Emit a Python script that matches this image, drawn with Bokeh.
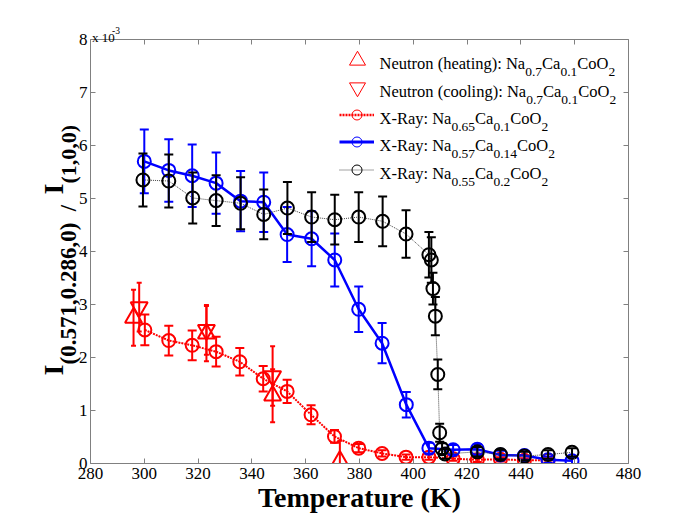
import numpy as np
from bokeh.plotting import figure
from bokeh.models import (Range1d, LinearAxis, FixedTicker, CustomJSTickFormatter,
                          Label, Legend, LegendItem, ColumnDataSource)
from bokeh.embed import file_html
from bokeh.resources import INLINE

# ---------------- data (intensity ratio in units of 1e-3) ----------------
heat_T = [296.0, 323.1, 347.7, 372.7]
heat_I = [2.75, 2.45, 1.28, 0.05]
heat_err = [0.53, 0.52, 0.50, 0.38]

cool_T = [298.1, 323.1, 347.7]
cool_I = [2.95, 2.52, 1.65]
cool_err = [0.46, 0.47, 0.56]

x65_T = [300.2, 309.1, 317.8, 326.7, 335.5, 344.2, 353.1, 362.0, 370.7, 379.7,
         388.4, 397.3, 405.8, 414.8, 423.8, 432.4, 441.3, 450.1]
x65_I = [2.52, 2.32, 2.23, 2.11, 1.92, 1.60, 1.36, 0.92, 0.51, 0.29,
         0.19, 0.12, 0.12, 0.09, 0.07, 0.08, 0.06, 0.06]
x65_err = [0.29, 0.28, 0.28, 0.28, 0.26, 0.24, 0.22, 0.18, 0.12, 0.08,
           0.06, 0.05, 0.05, 0.04, 0.04, 0.04, 0.04, 0.04]

x57_T = [300.0, 309.1, 317.8, 326.7, 335.8, 344.4, 353.1, 362.2, 370.8, 379.7,
         388.4, 397.4, 405.8, 414.8, 423.8, 432.4, 441.3, 450.1, 459.0]
x57_I = [5.70, 5.53, 5.43, 5.29, 4.95, 4.93, 4.32, 4.24, 3.84, 2.91,
         2.27, 1.11, 0.29, 0.26, 0.27, 0.16, 0.15, 0.07, 0.05]
x57_err = [0.60, 0.59, 0.59, 0.58, 0.57, 0.56, 0.52, 0.52, 0.50, 0.43,
           0.38, 0.24, 0.10, 0.09, 0.10, 0.08, 0.08, 0.06, 0.06]

x55_T = [299.5, 309.1, 318.0, 326.7, 335.8, 344.4, 353.2, 362.2, 370.8, 379.7,
         388.6, 397.3, 405.8, 406.7, 407.3, 408.2, 409.1, 409.8, 410.7, 411.8,
         423.8, 432.4, 441.3, 450.1, 459.0]
x55_I = [5.35, 5.33, 5.01, 4.96, 4.91, 4.70, 4.82, 4.65, 4.60, 4.65,
         4.57, 4.33, 3.94, 3.84, 3.30, 2.78, 1.68, 0.58, 0.28, 0.18,
         0.22, 0.17, 0.14, 0.17, 0.21]
x55_err = [0.50, 0.50, 0.48, 0.48, 0.49, 0.47, 0.49, 0.47, 0.47, 0.47,
           0.47, 0.45, 0.43, 0.43, 0.30, 0.36, 0.28, 0.17, 0.10, 0.09,
           0.09, 0.09, 0.08, 0.08, 0.08]

x_ticks = [280, 300, 320, 340, 360, 380, 400, 420, 440, 460, 480]
y_ticks = [0, 1, 2, 3, 4, 5, 6, 7, 8]

legend_rows = [
    [("Neutron (heating): Na", 0), ("0.7", 1), ("Ca", 0), ("0.1", 1), ("CoO", 0), ("2", 1)],
    [("Neutron (cooling): Na", 0), ("0.7", 1), ("Ca", 0), ("0.1", 1), ("CoO", 0), ("2", 1)],
    [("X-Ray: Na", 0), ("0.65", 1), ("Ca", 0), ("0.1", 1), ("CoO", 0), ("2", 1)],
    [("X-Ray: Na", 0), ("0.57", 1), ("Ca", 0), ("0.14", 1), ("CoO", 0), ("2", 1)],
    [("X-Ray: Na", 0), ("0.55", 1), ("Ca", 0), ("0.2", 1), ("CoO", 0), ("2", 1)],
]

FONT = "Liberation Serif"
NB = "\u00a0"

# ---------------- approximate Times metrics for text layout ----------------
REG = {' ': 250, '(': 333, ')': 333, ':': 278, '-': 333, '.': 250, ',': 250,
       'N': 722, 'e': 444, 'u': 500, 't': 278, 'r': 333, 'o': 500, 'n': 500, 'h': 500,
       'a': 444, 'i': 278, 'g': 500, 'c': 444, 'l': 278, 'C': 667, 'O': 722, 'X': 722,
       'R': 667, 'y': 500, 'x': 500}


def tw(s, size):
    return sum(REG.get(c, 500) for c in s) * size / 1000.0


# frame geometry (page pixels) -> data coordinates for text placement
FL, FT, FW, FH = 90.0, 39.0, 538.0, 424.0


def X(px):
    return 280 + (px - FL) * 200.0 / FW


def Y(py):
    return 8.0 * (FT + FH - py) / FH


p = figure(width=694, height=520, output_backend="svg", toolbar_location=None, tools="",
           x_range=Range1d(280, 480), y_range=Range1d(0, 8),
           x_axis_location=None, y_axis_location=None,
           min_border_left=90, min_border_right=66, min_border_top=39, min_border_bottom=57)
p.background_fill_color = "white"
p.border_fill_color = "white"
p.outline_line_color = None
p.xgrid.visible = False
p.ygrid.visible = False

AX = "#808080"
common = dict(axis_line_color=AX, major_tick_line_color=AX, major_tick_in=5, major_tick_out=0,
              minor_tick_line_color=None)
label_style = dict(major_label_text_font=FONT, major_label_text_font_size="17px",
                   major_label_text_color="black")

xaxis = LinearAxis(ticker=FixedTicker(ticks=x_ticks), major_label_standoff=4,
                   axis_label="Temperature (K)", axis_label_text_font=FONT,
                   axis_label_text_font_size="28px", axis_label_text_font_style="bold",
                   axis_label_text_color="black", axis_label_standoff=0,
                   **common, **label_style)
yaxis = LinearAxis(ticker=FixedTicker(ticks=y_ticks), major_label_standoff=3,
                   **common, **label_style)
p.add_layout(xaxis, "below")
p.add_layout(yaxis, "left")

blank = CustomJSTickFormatter(code="return ''")
top = LinearAxis(ticker=FixedTicker(ticks=x_ticks), formatter=blank, major_label_standoff=0,
                 **common)
right = LinearAxis(ticker=FixedTicker(ticks=y_ticks), formatter=blank, major_label_standoff=0,
                   **common)
p.add_layout(top, "above")
p.add_layout(right, "right")


def errbars(T, I, E, color, cap, lw):
    T = np.asarray(T, float)
    I = np.asarray(I, float)
    E = np.asarray(E, float)
    src = ColumnDataSource(dict(x=T, lo=I - E, hi=I + E))
    p.segment(x0="x", y0="lo", x1="x", y1="hi", source=src, line_color=color, line_width=lw)
    p.scatter(x="x", y="hi", source=src, marker="dash", size=cap, line_color=color, line_width=lw)
    p.scatter(x="x", y="lo", source=src, marker="dash", size=cap, line_color=color, line_width=lw)


# neutron data
errbars(heat_T, heat_I, heat_err, "red", 5, 2)
p.scatter(heat_T, heat_I, marker="triangle", size=17, line_color="red", fill_color=None, line_width=2)
errbars(cool_T, cool_I, cool_err, "red", 5, 2)
p.scatter(cool_T, cool_I, marker="inverted_triangle", size=17, line_color="red", fill_color=None, line_width=2)

# X-ray Na0.65
p.line(x65_T, x65_I, line_color="red", line_width=2, line_dash="2 1")
errbars(x65_T, x65_I, x65_err, "red", 9, 2)
p.scatter(x65_T, x65_I, marker="circle", size=13, line_color="red", fill_color=None, line_width=2)

# X-ray Na0.57
p.line(x57_T, x57_I, line_color="blue", line_width=2.5)
errbars(x57_T, x57_I, x57_err, "blue", 9, 2)
p.scatter(x57_T, x57_I, marker="circle", size=13, line_color="blue", fill_color=None, line_width=2)

# X-ray Na0.55
p.line(x55_T, x55_I, line_color="#444444", line_width=1, line_dash="1 1")
errbars(x55_T, x55_I, x55_err, "black", 9, 2)
p.scatter(x55_T, x55_I, marker="circle", size=13, line_color="black", fill_color=None, line_width=2)

# ---------------- legend (samples via Legend, text via Labels) ----------------
NAN = [np.nan]
lg_heat = [p.scatter(NAN, NAN, marker="triangle", line_color="red", fill_color=None, line_width=1)]
lg_cool = [p.scatter(NAN, NAN, marker="inverted_triangle", line_color="red", fill_color=None, line_width=1)]
lg_65 = [p.line(NAN, NAN, line_color="red", line_width=2.5, line_dash="2 1"),
         p.scatter(NAN, NAN, marker="circle", line_color="red", fill_color=None, line_width=1)]
lg_57 = [p.line(NAN, NAN, line_color="blue", line_width=3),
         p.scatter(NAN, NAN, marker="circle", line_color="blue", fill_color=None, line_width=1)]
lg_55 = [p.line(NAN, NAN, line_color="#444444", line_width=1, line_dash="1 1"),
         p.scatter(NAN, NAN, marker="circle", line_color="black", fill_color=None, line_width=1)]

BASE0, STEP = 63.3, 27.35
GLYPH_CX = 356.7
for i, (rends, gw, gh) in enumerate([(lg_heat, 40, 40), (lg_cool, 40, 40),
                                      (lg_65, 35, 25), (lg_57, 35, 25), (lg_55, 35, 25)]):
    cy = BASE0 + STEP * i - 3.7
    leg = Legend(items=[LegendItem(label=" ", renderers=rends)],
                 location=(GLYPH_CX - gw / 2.0 - FL, FT + FH - (cy + gh / 2.0)),
                 glyph_width=gw, glyph_height=gh, label_height=gh, label_width=1,
                 label_standoff=0, padding=0, margin=0, spacing=0,
                 border_line_color=None, background_fill_alpha=0,
                 label_text_font_size="1px")
    p.add_layout(leg, "center")

MAIN, SUB, SUBDROP = 16.5, 13.5, 8.5
for i, segs in enumerate(legend_rows):
    base = BASE0 + STEP * i
    cx = 379.0
    for txt, sub in segs:
        size = SUB if sub else MAIN
        yb = base + (SUBDROP if sub else 0)
        p.add_layout(Label(x=X(cx), y=Y(yb), text=txt, text_font=FONT,
                           text_font_size=f"{size}px", text_color="black",
                           text_align="left", text_baseline="alphabetic"))
        cx += tw(txt, size)

# ---------------- y-axis title (rotated, with subscripts) ----------------
def ylabel(txt, size, bx, by, side):
    p.add_layout(Label(x=X(bx), y=Y(by), text=txt, text_font=FONT, text_font_size=f"{size}px",
                       text_font_style="bold", text_color="black", angle=np.pi / 2,
                       text_align="left", text_baseline="alphabetic"), side)


ylabel("I", 28, 53, 375, "left")
ylabel("(0.571,0.286,0)" + NB * 2 + "/", 23, 68, 364, "left")
ylabel("I", 28, 53, 194, "right")
ylabel("(1,0,0)", 22, 68, 183, "right")

# multiplier
p.add_layout(Label(x=X(91.5), y=Y(37), text="x 10", text_font=FONT, text_font_size="13px",
                   text_color="black", text_align="left", text_baseline="alphabetic"), "above")
p.add_layout(Label(x=X(111.5), y=Y(30), text="-3", text_font=FONT, text_font_size="9.5px",
                   text_color="black", text_align="left", text_baseline="alphabetic"), "above")

open("out.html", "w").write(file_html(p, INLINE))
